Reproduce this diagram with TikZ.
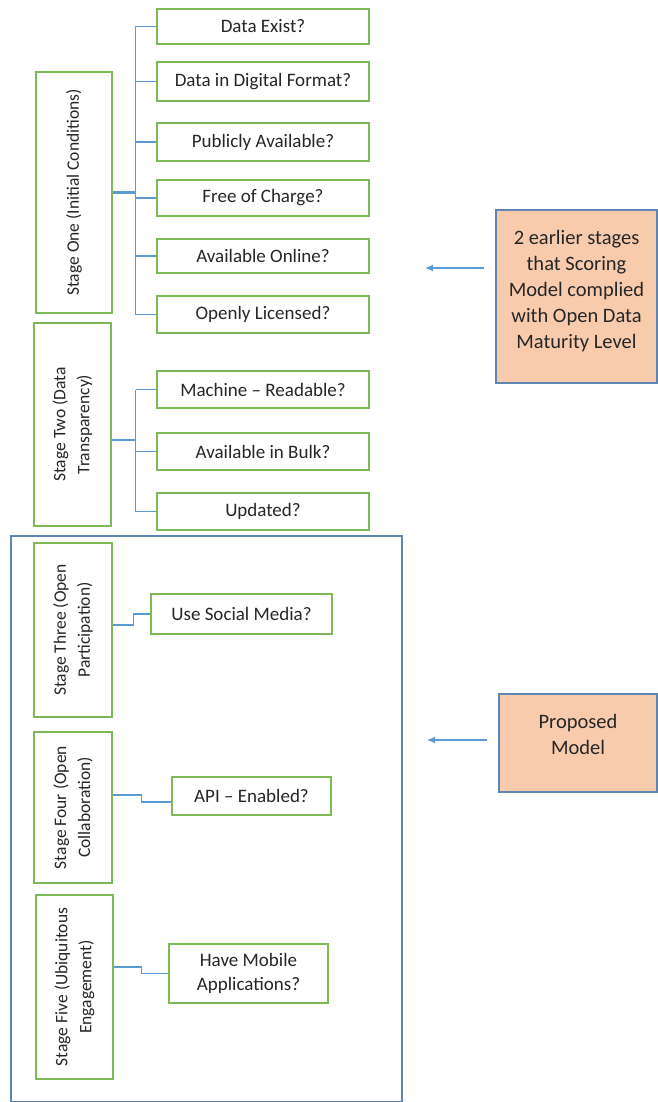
\documentclass[tikz,border=0pt]{standalone}
\usepackage{fontspec}
\setmainfont{Carlito}
\usetikzlibrary{arrows.meta}
\definecolor{gbox}{HTML}{7DB954}
\definecolor{lblue}{HTML}{5B9BD5}
\definecolor{fblue}{HTML}{5F86B3}
\definecolor{peach}{HTML}{F8CBAD}
\tikzset{
  qbox/.style={draw=gbox, line width=1.4pt, fill=white, inner sep=2pt, align=center, font=\fontsize{19}{23.5}\selectfont, text=black!85},
  stbox/.style={qbox, rotate=90, font=\fontsize{17.5}{24}\selectfont},
  conn/.style={draw=lblue, line width=1.3pt},
  note/.style={draw=fblue, line width=1.2pt, fill=peach, inner sep=0pt},
  notetext/.style={align=center, inner sep=0pt, font=\fontsize{20.5}{26}\selectfont, text=black!85},
  arr/.style={draw=lblue, line width=1.3pt, -{Latex[length=8pt,width=7pt]}}
}
\begin{document}
\begin{tikzpicture}[x=1pt,y=-1pt]
\useasboundingbox (0,0) rectangle (657,1102);
% big frame
\draw[draw=fblue, line width=1.2pt] (11,536) rectangle (402,1101.5);
% stage boxes
\node[stbox, minimum width=241, minimum height=76] (s1) at (74,192.5) {Stage One (Initial Conditions)};
\node[stbox, minimum width=203, minimum height=77] (s2) at (72.5,424.5) {Stage Two (Data\\Transparency)};
\node[stbox, minimum width=174, minimum height=78] (s3) at (73,630) {Stage Three (Open\\Participation)};
\node[stbox, minimum width=151, minimum height=78] (s4) at (73,807.5) {Stage Four (Open\\Collaboration)};
\node[stbox, minimum width=184, minimum height=77] (s5) at (74.5,987) {Stage Five (Ubiquitous\\Engagement)};
% question boxes
\node[qbox, minimum width=212, minimum height=35] (c1) at (263,26.5) {Data Exist?};
\node[qbox, minimum width=212, minimum height=39] (c2) at (263,81.5) {Data in Digital Format?};
\node[qbox, minimum width=212, minimum height=38] (c3) at (263,142) {Publicly Available?};
\node[qbox, minimum width=212, minimum height=36] (c4) at (263,198) {Free of Charge?};
\node[qbox, minimum width=212, minimum height=34] (c5) at (263,256) {Available Online?};
\node[qbox, minimum width=212, minimum height=37] (c6) at (263,314.5) {Openly Licensed?};
\node[qbox, minimum width=212, minimum height=37] (d1) at (263,389.5) {Machine -- Readable?};
\node[qbox, minimum width=212, minimum height=37] (d2) at (263,451.5) {Available in Bulk?};
\node[qbox, minimum width=212, minimum height=37] (d3) at (263,511.5) {Updated?};
\node[qbox, minimum width=181, minimum height=40] (u1) at (241.5,614) {Use Social Media?};
\node[qbox, minimum width=159, minimum height=38] (u2) at (251.5,796) {API -- Enabled?};
\node[qbox, minimum width=159, minimum height=59] (u3) at (248.5,973.5) {Have Mobile\\Applications?};
% connectors stage one
\draw[conn, line width=2pt] (s1.south) -- ++(23,0) coordinate (t1);
\draw[conn] (t1 |- c1.west) -- (t1 |- c6.west);
\foreach \c in {c1,c2,c3,c4,c5,c6} \draw[conn] (t1 |- \c.west) -- (\c.west);
% connectors stage two
\draw[conn, line width=2pt] ([yshift=-15.5]s2.south) -- ++(24,0) coordinate (t2);
\draw[conn] (t2 |- d1.west) -- (t2 |- d3.west);
\foreach \c in {d1,d2,d3} \draw[conn] (t2 |- \c.west) -- (\c.west);
% step connectors
\draw[conn] ([yshift=5]s3.south) -- ++(21,0) |- (u1.west);
\draw[conn] ([yshift=12.5]s4.south) -- ++(29,0) |- ([yshift=-6]u2.west);
\draw[conn] ([yshift=20]s5.south) -- ++(28,0) |- (u3.west);
% notes
\node[note, minimum width=161, minimum height=173] (n1) at (576.5,296.5) {};
\node[notetext] (n1t) at ([yshift=5.5]n1.center) {2 earlier stages\\that Scoring\\Model complied\\with Open Data\\Maturity Level};
\node[note, minimum width=158, minimum height=98] (n2) at (578,743) {};
\node[notetext] (n2t) at ([yshift=8.5]n2.center) {Proposed\\Model};
\coordinate (a1) at (425,268);
\coordinate (a2) at (427,740);
\draw[arr] (n1.west |- a1) ++(-11,0) -- (a1);
\draw[arr] (n2.west |- a2) ++(-11,0) -- (a2);
\end{tikzpicture}
\end{document}
